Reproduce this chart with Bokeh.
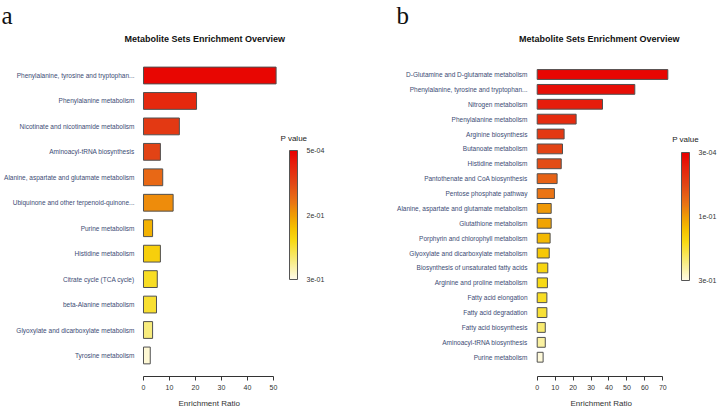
import numpy as np
from bokeh.plotting import figure
from bokeh.models import (ColumnDataSource, Range1d, LinearColorMapper,
                          ColorBar, FixedTicker, Label, Title)
from bokeh.layouts import row
from bokeh.embed import file_html
from bokeh.resources import INLINE

# ---------------- data ----------------
title_text = "Metabolite Sets Enrichment Overview"
xlabel_text = "Enrichment Ratio"
legend_title = "P value"

cats_a = ["Phenylalanine, tyrosine and tryptophan...",
          "Phenylalanine metabolism",
          "Nicotinate and nicotinamide metabolism",
          "Aminoacyl-tRNA biosynthesis",
          "Alanine, aspartate and glutamate metabolism",
          "Ubiquinone and other terpenoid-quinone...",
          "Purine metabolism",
          "Histidine metabolism",
          "Citrate cycle (TCA cycle)",
          "beta-Alanine metabolism",
          "Glyoxylate and dicarboxylate metabolism",
          "Tyrosine metabolism"]
ratio_a = [51.0, 20.4, 13.8, 6.5, 7.4, 11.4, 3.5, 6.5, 5.3, 5.0, 3.5, 2.6]
# position of each bar's colour on the P value colour scale (0 = bottom, 1 = top)
shade_a = [0.98, 0.86, 0.80, 0.76, 0.64, 0.54, 0.44, 0.34, 0.28, 0.26, 0.15, 0.03]
xticks_a = [0, 10, 20, 30, 40, 50]
cbar_ticks_a = [0, 0.5, 1]
cbar_labels_a = ["3e-01", "2e-01", "5e-04"]

cats_b = ["D-Glutamine and D-glutamate metabolism",
          "Phenylalanine, tyrosine and tryptophan...",
          "Nitrogen metabolism",
          "Phenylalanine metabolism",
          "Arginine biosynthesis",
          "Butanoate metabolism",
          "Histidine metabolism",
          "Pantothenate and CoA biosynthesis",
          "Pentose phosphate pathway",
          "Alanine, aspartate and glutamate metabolism",
          "Glutathione metabolism",
          "Porphyrin and chlorophyll metabolism",
          "Glyoxylate and dicarboxylate metabolism",
          "Biosynthesis of unsaturated fatty acids",
          "Arginine and proline metabolism",
          "Fatty acid elongation",
          "Fatty acid degradation",
          "Fatty acid biosynthesis",
          "Aminoacyl-tRNA biosynthesis",
          "Purine metabolism"]
ratio_b = [72.8, 54.4, 36.4, 21.7, 15.0, 14.1, 13.4, 11.1, 9.6, 7.8,
           7.8, 7.2, 6.7, 5.9, 5.7, 5.4, 5.4, 4.5, 4.5, 3.3]
shade_b = [0.98, 0.95, 0.90, 0.85, 0.80, 0.76, 0.73, 0.66, 0.60, 0.51,
           0.48, 0.42, 0.37, 0.32, 0.30, 0.28, 0.25, 0.17, 0.10, 0.02]
xticks_b = [0, 10, 20, 30, 40, 50, 60, 70]
cbar_ticks_b = [0, 0.5, 1]
cbar_labels_b = ["3e-01", "1e-01", "3e-04"]

# ---------------- palette (heat scale) ----------------
anchors = [(0.00, "#fffbe8"), (0.15, "#f8ec7c"), (0.30, "#f8da14"), (0.40, "#f5c000"),
           (0.50, "#f09c04"), (0.60, "#ea7414"), (0.75, "#e24616"), (0.90, "#e61e0c"),
           (1.00, "#e80000")]
apos = np.array([a[0] for a in anchors])
argb = np.array([[int(a[1][i:i + 2], 16) for i in (1, 3, 5)] for a in anchors], float)
palette = []
for g in np.linspace(0, 1, 256):
    r, gg, b = (np.interp(g, apos, argb[:, k]) for k in range(3))
    palette.append("#%02x%02x%02x" % (int(round(r)), int(round(gg)), int(round(b))))

FONT = "Liberation Sans"
H = 412
TOP = 45       # frame top (px)
BOTTOM = 36    # space below the frame (px)


def panel(cats, ratios, shades, xticks, cticks, clabels, letter, width, border_left,
          x_start, x_end, first_c, step, cat_standoff, letter_off, title_off,
          xlab_off, cb_x, cb_y, cb_h, pv_x, pv_y):
    n = len(cats)
    idx = list(range(n))
    fb = H - BOTTOM
    y_top = (TOP - first_c) / step
    y_bot = (fb - first_c) / step
    mapper = LinearColorMapper(palette=palette, low=0, high=1)
    src = ColumnDataSource(dict(idx=idx, ratio=ratios, shade=shades))
    p = figure(width=width, height=H, y_range=Range1d(y_bot, y_top),
               x_range=Range1d(x_start, x_end), title=None,
               output_backend="svg", toolbar_location=None,
               min_border_left=border_left, min_border_right=0,
               min_border_top=TOP, min_border_bottom=BOTTOM)
    p.hbar(y="idx", left=0, right="ratio", height=0.66, source=src,
           fill_color={"field": "shade", "transform": mapper},
           line_color="#505050", line_width=1)
    p.grid.visible = False
    p.outline_line_color = None
    p.background_fill_color = "white"
    p.border_fill_color = "white"

    # main title (nearest the frame), then the panel letter above it
    p.add_layout(Title(text=title_text, align="left", vertical_align="bottom",
                       standoff=3, offset=title_off, text_font=FONT,
                       text_font_size="9px", text_font_style="bold",
                       text_color="#111111"), "above")
    p.add_layout(Title(text=letter, align="left", vertical_align="top", standoff=0,
                       offset=letter_off, text_font="Liberation Serif",
                       text_font_size="25px", text_font_style="normal",
                       text_color="#111111"), "above")

    ya = p.yaxis[0]
    ya.ticker = FixedTicker(ticks=idx)
    ya.major_label_overrides = {i: c for i, c in zip(idx, cats)}
    ya.axis_line_color = None
    ya.major_tick_line_color = None
    ya.minor_tick_line_color = None
    ya.major_tick_out = 0
    ya.major_tick_in = 0
    ya.minor_tick_out = 0
    ya.major_label_standoff = cat_standoff
    ya.major_label_text_font = FONT
    ya.major_label_text_font_size = "6.5px"
    ya.major_label_text_color = "#3c4b74"

    xa = p.xaxis[0]
    xa.ticker = FixedTicker(ticks=xticks)
    xa.bounds = (xticks[0], xticks[-1])
    xa.axis_line_color = "#333333"
    xa.major_tick_line_color = "#333333"
    xa.major_tick_out = 4
    xa.major_tick_in = 0
    xa.minor_tick_out = 0
    xa.minor_tick_line_color = None
    xa.major_label_standoff = 4
    xa.major_label_text_font = FONT
    xa.major_label_text_font_size = "7px"
    xa.major_label_text_color = "#333333"
    # axis title, centred under the ticked part of the axis
    p.add_layout(Title(text=xlabel_text, align="left", vertical_align="bottom",
                       standoff=9, offset=xlab_off, text_font=FONT,
                       text_font_size="8px", text_font_style="normal",
                       text_color="#333333"), "below")

    cb = ColorBar(color_mapper=mapper, location=(cb_x, cb_y), width=8, height=cb_h,
                  padding=0, margin=0, ticker=FixedTicker(ticks=cticks),
                  major_label_overrides={t: l for t, l in zip(cticks, clabels)},
                  major_label_text_font=FONT, major_label_text_font_size="7px",
                  major_label_text_color="#333333", label_standoff=9,
                  major_tick_line_color=None, bar_line_color="#555555",
                  background_fill_color=None, border_line_color=None)
    p.add_layout(cb, "center")
    p.add_layout(Label(x=pv_x, y=pv_y, x_units="screen", y_units="screen",
                       text=legend_title, text_font=FONT, text_font_size="8px",
                       text_color="#222222", text_baseline="middle"))
    return p


pa = panel(cats_a, ratio_a, shade_a, xticks_a, cbar_ticks_a, cbar_labels_a, "a",
           width=360, border_left=138, x_start=-1.92, x_end=83.46,
           first_c=75, step=25.45, cat_standoff=4, letter_off=-137, title_off=-14,
           xlab_off=40, cb_x=151, cb_y=97, cb_h=129, pv_x=142, pv_y=238)
pb = panel(cats_b, ratio_b, shade_b, xticks_b, cbar_ticks_b, cbar_labels_b, "b",
           width=359, border_left=172, x_start=-2.62, x_end=101.6,
           first_c=74, step=14.88, cat_standoff=5, letter_off=-136, title_off=-13.5,
           xlab_off=38, cb_x=149, cb_y=96, cb_h=128, pv_x=139.7, pv_y=237)

layout = row(pa, pb, spacing=0)
open("out.html", "w").write(file_html(layout, INLINE))
